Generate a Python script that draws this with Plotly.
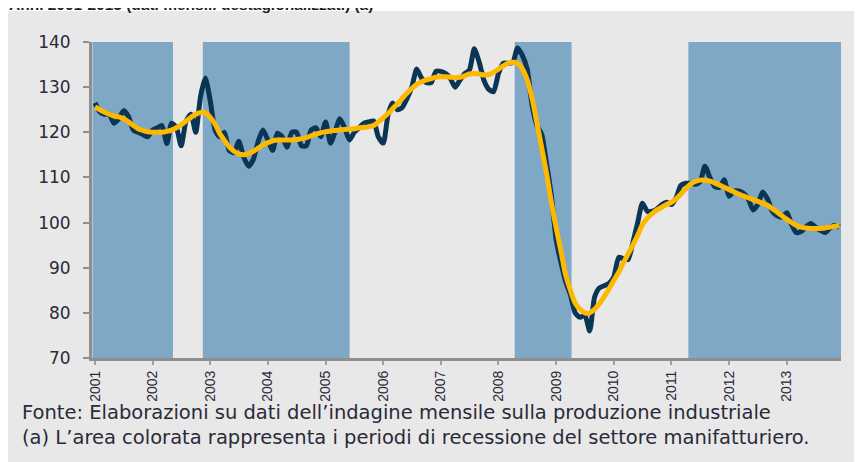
import pandas as pd
import plotly.graph_objects as go

# Indice mensile destagionalizzato, gen 2001 - dic 2013
mesi = pd.date_range("2001-01-01", periods=156, freq="MS")

indice = [
    126.5, 124.5, 124.0, 124.0, 122.0, 123.0, 124.8, 123.5, 120.5, 120.0, 119.5, 119.0,  # 2001
    120.5, 121.0, 121.5, 117.5, 122.0, 121.0, 117.0, 122.5, 124.0, 120.0, 128.0, 132.0,  # 2002
    127.0, 120.5, 119.0, 120.0, 116.0, 115.5, 118.0, 114.5, 112.5, 114.0, 118.0, 120.5,  # 2003
    118.3, 116.0, 119.8, 119.0, 116.7, 120.0, 120.0, 117.0, 117.0, 120.5, 121.0, 119.0,  # 2004
    122.3, 117.6, 120.0, 123.0, 121.0, 118.3, 120.0, 121.0, 122.0, 122.3, 122.5, 119.0,  # 2005
    117.6, 124.0, 126.5, 125.0, 125.5, 127.5, 130.0, 134.0, 132.0, 131.0, 131.0, 133.5,  # 2006
    133.5, 133.0, 132.0, 130.0, 131.5, 133.0, 133.8, 138.5, 135.5, 131.5, 129.5, 129.0,  # 2007
    133.0, 135.3, 135.3, 135.5, 138.7, 137.0, 134.0, 126.0, 121.5, 119.5, 113.0, 106.0,  # 2008
    96.0, 91.0, 87.0, 84.0, 80.0, 79.0, 79.5, 76.0, 83.5, 85.5, 86.0, 86.5,              # 2009
    88.0, 92.3, 92.0, 91.8, 95.5, 100.0, 104.3, 102.5, 102.5, 103.0, 104.0, 104.5,       # 2010
    104.0, 105.6, 108.2, 108.7, 108.7, 108.5, 109.0, 112.5, 110.0, 108.0, 107.8, 109.5,  # 2011
    105.8, 107.0, 107.0, 106.5, 105.3, 102.8, 104.0, 106.8, 105.2, 102.5, 101.5, 101.2,  # 2012
    102.2, 99.5, 97.8, 98.0, 99.0, 99.8, 99.0, 98.3, 97.8, 98.8, 99.4, 99.0,             # 2013
]

trend = [
    125.6, 125.0, 124.5, 124.0, 123.6, 123.4, 123.0, 122.3, 121.5, 120.8, 120.4, 120.1,
    120.0, 120.0, 120.0, 120.2, 120.5, 121.0, 121.7, 122.5, 123.3, 124.0, 124.4, 124.3,
    123.3, 121.8, 119.8, 118.2, 116.8, 115.8, 115.2, 115.0, 115.3, 115.8, 116.5, 117.2,
    117.7, 118.1, 118.3, 118.3, 118.3, 118.3, 118.4, 118.6, 118.8, 119.2, 119.6, 119.9,
    120.1, 120.3, 120.4, 120.5, 120.6, 120.7, 120.8, 121.0, 121.1, 121.2, 121.5, 122.3,
    123.2, 124.2, 125.2, 126.3, 127.5, 128.7, 129.7, 130.6, 131.2, 131.6, 131.9, 132.2,
    132.3, 132.3, 132.2, 132.1, 132.2, 132.5, 132.9, 133.0, 132.9, 132.7, 132.8, 133.3,
    134.0, 134.7, 135.3, 135.5, 135.3, 134.0, 131.6, 127.5, 122.0, 116.5, 110.8, 104.5,
    98.8, 93.5, 88.5, 85.0, 82.2, 80.8, 80.0, 80.0, 80.8, 82.0, 83.6, 85.3,
    87.2, 89.0, 91.0, 93.0, 95.0, 97.2, 99.5, 101.0, 102.0, 102.8, 103.4, 104.0,
    104.5, 105.3, 106.3, 107.5, 108.5, 109.1, 109.4, 109.4, 109.2, 108.8, 108.3, 107.8,
    107.3, 106.8, 106.3, 105.9, 105.5, 105.1, 104.7, 104.3, 103.8, 103.1, 102.3, 101.5,
    100.7, 100.0, 99.4, 99.0, 98.8, 98.7, 98.7, 98.7, 98.8, 99.0, 99.2, 99.4,
]

# periodi di recessione del settore manifatturiero
rec_inizio = ["2000-12-16", "2002-11-15", "2008-04-13", "2011-04-18"]
rec_fine = ["2002-05-10", "2005-06-02", "2009-04-08", "2013-12-10"]

titolo = "Anni 2001-2013 (dati mensili destagionalizzati) (a)"
nota1 = "Fonte: Elaborazioni su dati dell\u2019indagine mensile sulla produzione industriale"
nota2 = "(a) L\u2019area colorata rappresenta i periodi di recessione del settore manifatturiero."

fig = go.Figure()

fig.add_trace(go.Scatter(
    x=mesi, y=indice, mode="lines", name="Indice",
    line=dict(color="#0B3554", width=5, shape="spline", smoothing=0.6),
))
fig.add_trace(go.Scatter(
    x=mesi, y=trend, mode="lines", name="Trend",
    line=dict(color="#FDB900", width=5, shape="spline"),
))

# sfondo grigio del riquadro
fig.add_shape(type="rect", xref="paper", yref="paper",
              x0=-0.2, x1=1.2, y0=-0.5, y1=1.098,
              fillcolor="#E8E8E8", line_width=0, layer="below")

for a, b in zip(rec_inizio, rec_fine):
    fig.add_shape(type="rect", xref="x", yref="y", x0=a, x1=b, y0=70, y1=140,
                  fillcolor="#7EA8C5", line_width=0, layer="below")

# titolo (tagliato in alto come nell'originale)
fig.add_annotation(text="<b>" + titolo + "</b>", xref="paper", yref="paper",
                   x=-0.114, y=1.118, xanchor="left", yanchor="middle",
                   showarrow=False, font=dict(family="Liberation Sans", size=15.5, color="#1b1b2a"))
fig.add_annotation(text=nota1 + "<br>" + nota2, xref="paper", yref="paper",
                   x=-0.096, y=-0.212, xanchor="left", yanchor="middle", align="left",
                   showarrow=False, font=dict(family="DejaVu Sans", size=19.5, color="#2a2a3a"))

fig.update_layout(
    width=854, height=454,
    margin=dict(l=84, r=21, t=34, b=104),
    paper_bgcolor="white",
    plot_bgcolor="rgba(0,0,0,0)",
    showlegend=False,
)
fig.update_xaxes(
    type="date", range=["2000-12-13", "2013-12-10"],
    dtick="M12", tick0="2001-01-01", tickformat="%Y", tickangle=-90,
    showgrid=False, zeroline=False,
    showline=True, linecolor="#8E8E8E", linewidth=3,
    ticks="outside", ticklen=4, tickcolor="#A0A0A0", tickwidth=1.5,
    tickfont=dict(family="Liberation Sans", size=14, color="#2a2a3a"),
)
fig.update_yaxes(
    range=[70, 140], tickvals=[70, 80, 90, 100, 110, 120, 130, 140],
    showgrid=False, zeroline=False,
    showline=True, linecolor="#8E8E8E", linewidth=3,
    ticks="outside", ticklen=6, tickcolor="#8E8E8E", tickwidth=1.5,
    ticklabelstandoff=9,
    tickfont=dict(family="DejaVu Sans", size=17, color="#2a2a3a"),
)

fig.write_html("out.html")
